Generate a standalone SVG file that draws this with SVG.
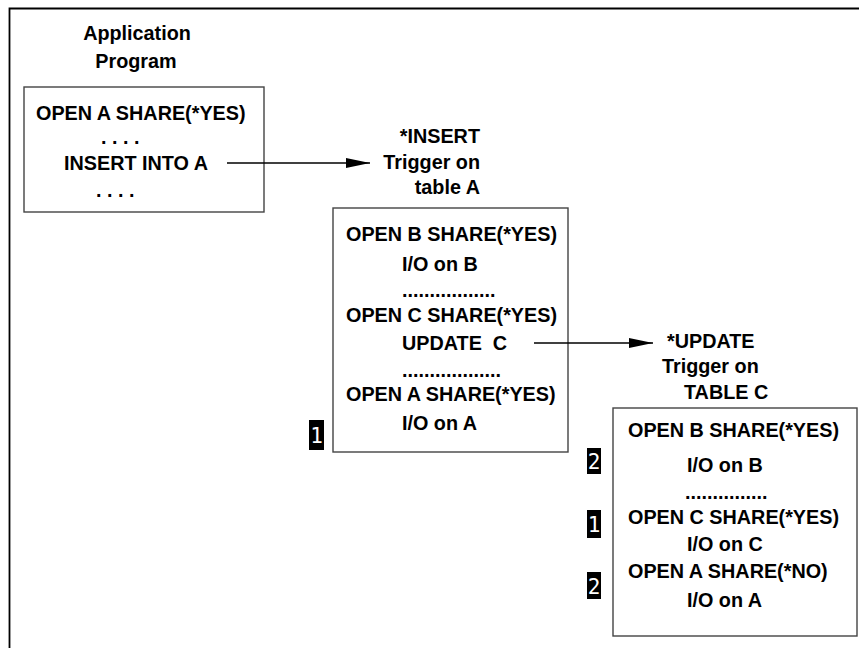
<svg xmlns="http://www.w3.org/2000/svg" width="859" height="648" viewBox="0 0 859 648">
<style>
.t{font-family:"Liberation Sans",Arial,sans-serif;font-weight:bold;font-size:19.8px;fill:#000}
.box{fill:#fff;stroke:#444;stroke-width:1.4}
.badge{fill:#000}
.bt{font-family:"DejaVu Sans Mono","Liberation Mono",monospace;font-size:21px;fill:#fff;text-anchor:middle}
.conn{stroke:#000;stroke-width:1.3;fill:none}
</style>
<defs>
<marker id="ah" markerUnits="userSpaceOnUse" markerWidth="24" markerHeight="11" refX="24" refY="5.5" orient="auto">
<path d="M0,0.5 L24,5.5 L0,10.5 Z" fill="#000"/>
</marker>
</defs>
<rect width="859" height="648" fill="#fff"/>
<path d="M9.5,648 V8.5 H859" fill="none" stroke="#000" stroke-width="1.8"/>

<g id="app-program">
<text class="t" x="137" y="40" text-anchor="middle">Application</text>
<text class="t" x="136" y="68" text-anchor="middle">Program</text>
<rect class="box" x="24" y="87" width="240" height="125"/>
<text class="t" x="36" y="120">OPEN A SHARE(*YES)</text>
<text class="t" x="101" y="144">. . . .</text>
<text class="t" x="64" y="170">INSERT INTO A</text>
<text class="t" x="96" y="197">. . . .</text>
</g>

<g id="insert-trigger">
<text class="t" x="480" y="143" text-anchor="end">*INSERT</text>
<text class="t" x="480" y="169" text-anchor="end">Trigger on</text>
<text class="t" x="480" y="194" text-anchor="end">table A</text>
<rect class="box" x="333" y="208" width="235" height="244"/>
<text class="t" x="346" y="241">OPEN B SHARE(*YES)</text>
<text class="t" x="402" y="271">I/O on B</text>
<text class="t" x="402" y="297">.................</text>
<text class="t" x="346" y="322">OPEN C SHARE(*YES)</text>
<text class="t" x="402" y="350" xml:space="preserve">UPDATE  C</text>
<text class="t" x="402" y="377">..................</text>
<text class="t" x="346" y="401">OPEN A SHARE(*YES)</text>
<text class="t" x="402" y="430">I/O on A</text>
</g>

<g id="badge-1a">
<rect class="badge" x="309" y="420" width="15" height="30"/>
<text class="bt" x="316.5" y="443">1</text>
</g>

<g id="update-trigger">
<text class="t" x="667" y="348">*UPDATE</text>
<text class="t" x="662" y="373">Trigger on</text>
<text class="t" x="684" y="399">TABLE C</text>
<rect class="box" x="613" y="408" width="244" height="228"/>
<text class="t" x="628" y="437">OPEN B SHARE(*YES)</text>
<text class="t" x="687" y="472">I/O on B</text>
<text class="t" x="685" y="499">...............</text>
<text class="t" x="628" y="524">OPEN C SHARE(*YES)</text>
<text class="t" x="687" y="551">I/O on C</text>
<text class="t" x="628" y="578">OPEN A SHARE(*NO)</text>
<text class="t" x="687" y="607">I/O on A</text>
</g>

<g id="badge-2a">
<rect class="badge" x="587" y="448" width="14" height="26"/>
<text class="bt" x="594" y="469">2</text>
</g>
<g id="badge-1b">
<rect class="badge" x="587" y="510" width="14" height="28"/>
<text class="bt" x="594" y="532">1</text>
</g>
<g id="badge-2b">
<rect class="badge" x="587" y="572" width="14" height="27"/>
<text class="bt" x="594" y="594">2</text>
</g>

<g id="connectors">
<line class="conn" x1="227" y1="163" x2="370" y2="163" marker-end="url(#ah)"/>
<line class="conn" x1="534" y1="343" x2="653" y2="343" marker-end="url(#ah)"/>
</g>
</svg>
